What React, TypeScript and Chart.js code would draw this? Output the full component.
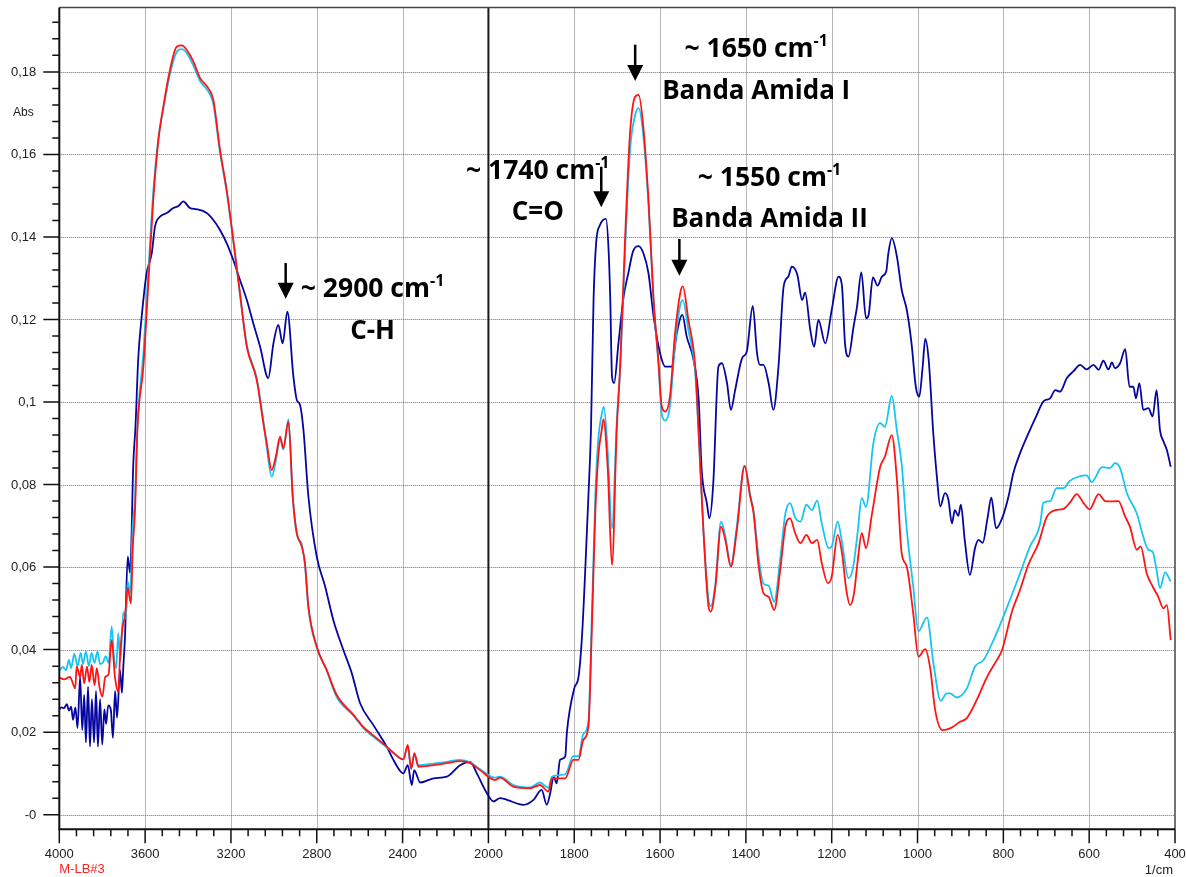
import { useEffect, useRef } from "react";
import { Chart, registerables } from "chart.js";
Chart.register(...registerables);

// ---------- axis ticks ----------
const xTickLabels = ["4000", "3600", "3200", "2800", "2400", "2000", "1800", "1600", "1400", "1200", "1000", "800", "600", "400"];
const yTickValues = [0, 0.02, 0.04, 0.06, 0.08, 0.1, 0.12, 0.14, 0.16, 0.18];
const yTickLabels = ["-0", "0,02", "0,04", "0,06", "0,08", "0,1", "0,12", "0,14", "0,16", "0,18"];
const yMin = -0.00354;
const yMax = 0.1956;

// ---------- spectra: [wavenumber (1/cm), absorbance] ----------
const navySeries: [number, number][] = [
  [4000,0.0255],[3990,0.026],[3978,0.0258],[3965,0.0268],[3955,0.0252],[3945,0.0262],[3936,0.023],[3925,0.026],[3915,0.021],[3903,0.0334],[3893,0.0205],[3884,0.029],[3876,0.0175],[3866,0.031],[3857,0.0165],[3848,0.028],[3838,0.0175],[3829,0.03],[3820,0.0165],[3810,0.028],[3800,0.017],[3790,0.0255],[3782,0.022],[3772,0.0265],[3760,0.0255],[3750,0.0186],[3740,0.03],[3731,0.0235],[3717,0.035],[3708,0.0295],[3702,0.0355],[3694,0.0428],[3681,0.0625],[3670,0.0586],[3655,0.0852],[3645,0.094],[3632,0.1106],[3616,0.1207],[3593,0.1312],[3569,0.1361],[3554,0.1425],[3531,0.1449],[3499,0.1458],[3469,0.147],[3445,0.1475],[3422,0.1486],[3391,0.147],[3359,0.1467],[3313,0.1458],[3282,0.1441],[3251,0.1417],[3220,0.1385],[3189,0.1344],[3158,0.1296],[3126,0.1247],[3096,0.1191],[3064,0.1134],[3026,0.1058],[3002,0.1142],[2979,0.1187],[2959,0.1142],[2937,0.1219],[2909,0.1062],[2893,0.1005],[2878,0.0993],[2862,0.0932],[2839,0.0771],[2800,0.0625],[2761,0.0553],[2723,0.0472],[2676,0.0399],[2637,0.0343],[2598,0.027],[2536,0.0217],[2474,0.0165],[2443,0.0133],[2396,0.01],[2376,0.012],[2357,0.0072],[2346,0.0108],[2318,0.0078],[2256,0.0088],[2194,0.0092],[2132,0.012],[2085,0.0128],[2054,0.01],[2007,0.0052],[1988,0.0032],[1973,0.004],[1957,0.0036],[1918,0.0024],[1895,0.0036],[1876,0.006],[1864,0.0024],[1856,0.0052],[1848,0.0092],[1841,0.0076],[1833,0.0133],[1821,0.0141],[1817,0.0201],[1800,0.0306],[1790,0.0334],[1782,0.0431],[1775,0.0577],[1767,0.0771],[1761,0.0932],[1755,0.1247],[1749,0.1385],[1740,0.1429],[1726,0.1444],[1720,0.1369],[1716,0.1247],[1712,0.1062],[1707,0.1046],[1697,0.1142],[1685,0.1255],[1674,0.1312],[1663,0.1365],[1650,0.1378],[1639,0.1361],[1627,0.1312],[1615,0.1207],[1600,0.1118],[1588,0.1086],[1573,0.1086],[1561,0.1167],[1548,0.1211],[1538,0.1159],[1522,0.1102],[1510,0.1005],[1503,0.0835],[1491,0.0755],[1485,0.0718],[1476,0.0803],[1464,0.1086],[1456,0.1094],[1444,0.1046],[1435,0.0981],[1425,0.1029],[1409,0.1106],[1398,0.1122],[1384,0.1233],[1374,0.1118],[1367,0.109],[1359,0.109],[1347,0.1046],[1336,0.0981],[1324,0.1086],[1312,0.128],[1301,0.1304],[1293,0.1328],[1280,0.1308],[1269,0.1247],[1262,0.1265],[1250,0.1175],[1241,0.1134],[1231,0.1199],[1215,0.1142],[1200,0.1223],[1184,0.1304],[1176,0.128],[1169,0.1142],[1161,0.111],[1149,0.1183],[1141,0.1231],[1131,0.1314],[1120,0.1203],[1114,0.1211],[1104,0.1302],[1093,0.1282],[1083,0.1304],[1073,0.1316],[1068,0.136],[1060,0.1397],[1048,0.1352],[1037,0.1272],[1025,0.1223],[1014,0.1142],[1004,0.1037],[996,0.1013],[988,0.1086],[982,0.1153],[974,0.1102],[963,0.092],[955,0.082],[947,0.0747],[936,0.0779],[928,0.0763],[920,0.0706],[913,0.0738],[905,0.0724],[899,0.0751],[890,0.0666],[878,0.0581],[866,0.0646],[858,0.0666],[848,0.0659],[837,0.0718],[828,0.0768],[817,0.0694],[803,0.0718],[788,0.0771],[777,0.0827],[761,0.0876],[745,0.0916],[722,0.0969],[707,0.1001],[691,0.1009],[679,0.1029],[668,0.1025],[652,0.1058],[637,0.1074],[621,0.109],[606,0.1079],[590,0.109],[578,0.1078],[567,0.11],[555,0.1079],[547,0.1096],[540,0.1082],[528,0.1094],[516,0.1128],[506,0.1037],[497,0.1037],[491,0.1009],[483,0.1046],[474,0.0981],[462,0.0985],[452,0.0965],[443,0.1029],[435,0.0932],[427,0.0905],[419,0.0884],[410,0.0843]
];

const redSeries: [number, number][] = [
  [4000,0.0332],[3976,0.0328],[3950,0.0334],[3942,0.0326],[3926,0.0306],[3919,0.0359],[3903,0.0334],[3895,0.0363],[3884,0.0318],[3871,0.0359],[3860,0.0322],[3849,0.0363],[3836,0.0314],[3825,0.0355],[3813,0.031],[3799,0.0286],[3786,0.0334],[3771,0.0339],[3756,0.0423],[3740,0.0331],[3725,0.0298],[3717,0.0383],[3705,0.0455],[3694,0.048],[3681,0.0549],[3666,0.0512],[3658,0.0642],[3647,0.0738],[3636,0.0932],[3608,0.1086],[3585,0.1288],[3562,0.149],[3538,0.1635],[3515,0.1716],[3484,0.1805],[3453,0.1861],[3429,0.1864],[3406,0.1853],[3375,0.1825],[3344,0.1785],[3305,0.176],[3282,0.1732],[3251,0.1611],[3220,0.1514],[3189,0.1393],[3158,0.1264],[3126,0.1134],[3080,0.1054],[3049,0.0949],[3033,0.09],[3010,0.0835],[2990,0.087],[2971,0.0916],[2956,0.0888],[2932,0.0953],[2912,0.0771],[2893,0.0682],[2870,0.065],[2855,0.0609],[2839,0.0504],[2800,0.0407],[2754,0.0351],[2707,0.029],[2629,0.0242],[2583,0.0213],[2520,0.0185],[2474,0.0165],[2412,0.0137],[2396,0.0134],[2376,0.0169],[2360,0.0112],[2345,0.0149],[2326,0.0116],[2256,0.012],[2194,0.0125],[2132,0.013],[2085,0.0125],[2039,0.0108],[1984,0.0084],[1973,0.009],[1942,0.0068],[1903,0.0064],[1880,0.0072],[1860,0.0056],[1852,0.0088],[1821,0.0088],[1802,0.0133],[1790,0.0133],[1779,0.0181],[1767,0.0213],[1759,0.0448],[1751,0.073],[1744,0.0868],[1736,0.0932],[1732,0.0958],[1722,0.084],[1712,0.0605],[1701,0.0932],[1693,0.1086],[1681,0.1409],[1670,0.1651],[1658,0.174],[1650,0.1744],[1639,0.1667],[1627,0.149],[1615,0.1247],[1604,0.1102],[1596,0.0989],[1588,0.0977],[1577,0.1013],[1565,0.1167],[1553,0.1264],[1547,0.128],[1534,0.1199],[1518,0.1086],[1510,0.0925],[1499,0.069],[1487,0.0504],[1482,0.0492],[1471,0.0553],[1458,0.0698],[1448,0.0666],[1435,0.0601],[1421,0.069],[1403,0.0845],[1390,0.0771],[1382,0.073],[1371,0.0609],[1359,0.0537],[1347,0.0528],[1334,0.0496],[1320,0.0593],[1308,0.0698],[1297,0.0718],[1285,0.0682],[1273,0.0658],[1259,0.0678],[1246,0.0658],[1234,0.0666],[1223,0.0609],[1209,0.0561],[1200,0.0577],[1186,0.0678],[1176,0.0634],[1166,0.0545],[1157,0.0508],[1148,0.0537],[1140,0.0609],[1130,0.0682],[1120,0.0646],[1106,0.073],[1087,0.0843],[1076,0.0868],[1060,0.092],[1048,0.0811],[1037,0.0634],[1025,0.0601],[1010,0.0488],[998,0.0383],[982,0.0401],[970,0.0351],[959,0.0254],[942,0.0205],[924,0.0209],[901,0.0225],[885,0.0234],[862,0.0278],[838,0.0334],[815,0.0375],[803,0.0399],[780,0.0492],[761,0.0545],[742,0.0605],[718,0.0658],[699,0.0721],[679,0.0738],[660,0.0741],[645,0.0756],[629,0.0777],[613,0.0755],[599,0.074],[578,0.0777],[563,0.076],[547,0.0759],[532,0.076],[516,0.0722],[505,0.0698],[489,0.0642],[480,0.065],[466,0.0585],[452,0.0553],[439,0.0528],[427,0.05],[419,0.0508],[410,0.0423]
];

const cyanSeries: [number, number][] = [
  [4000,0.0349],[3983,0.0358],[3969,0.035],[3955,0.0375],[3945,0.0355],[3930,0.039],[3915,0.036],[3900,0.0392],[3890,0.0365],[3876,0.0395],[3862,0.036],[3850,0.0392],[3836,0.0368],[3822,0.0395],[3810,0.0365],[3796,0.037],[3784,0.0384],[3770,0.0368],[3756,0.0456],[3745,0.038],[3735,0.0355],[3725,0.044],[3715,0.0372],[3702,0.049],[3690,0.0475],[3681,0.0565],[3670,0.0535],[3658,0.07],[3647,0.0765],[3636,0.094],[3608,0.112],[3585,0.1315],[3562,0.151],[3538,0.164],[3515,0.1712],[3484,0.1795],[3453,0.1848],[3429,0.1855],[3406,0.1845],[3375,0.1815],[3344,0.1778],[3305,0.1752],[3282,0.1722],[3251,0.1605],[3220,0.151],[3189,0.139],[3158,0.126],[3126,0.1138],[3080,0.1058],[3049,0.0955],[3033,0.089],[3010,0.0819],[2990,0.086],[2971,0.091],[2956,0.0885],[2932,0.0958],[2912,0.077],[2893,0.068],[2870,0.0655],[2855,0.0605],[2839,0.05],[2800,0.0405],[2754,0.035],[2707,0.0285],[2629,0.024],[2583,0.021],[2520,0.0182],[2474,0.0163],[2412,0.0137],[2396,0.0134],[2376,0.0166],[2360,0.011],[2345,0.0146],[2326,0.012],[2256,0.0124],[2194,0.0128],[2132,0.0133],[2085,0.0127],[2039,0.011],[1984,0.009],[1973,0.0092],[1942,0.0072],[1903,0.0066],[1880,0.0078],[1860,0.0065],[1852,0.0092],[1821,0.0098],[1802,0.0142],[1790,0.0142],[1779,0.0195],[1767,0.0225],[1759,0.048],[1751,0.077],[1744,0.091],[1736,0.097],[1731,0.0989],[1722,0.088],[1712,0.0694],[1701,0.095],[1693,0.108],[1681,0.138],[1670,0.161],[1658,0.1695],[1650,0.1712],[1639,0.1645],[1627,0.148],[1615,0.124],[1604,0.1095],[1596,0.097],[1588,0.0955],[1577,0.099],[1565,0.114],[1553,0.1235],[1547,0.1247],[1534,0.1175],[1518,0.107],[1510,0.092],[1499,0.069],[1487,0.052],[1482,0.0505],[1471,0.056],[1458,0.071],[1448,0.0675],[1435,0.0605],[1421,0.07],[1403,0.0845],[1390,0.0775],[1382,0.0735],[1371,0.063],[1359,0.056],[1347,0.0555],[1334,0.0516],[1320,0.062],[1308,0.073],[1297,0.0755],[1285,0.072],[1273,0.071],[1259,0.0751],[1246,0.0738],[1234,0.0761],[1223,0.0705],[1207,0.0646],[1200,0.065],[1186,0.071],[1176,0.066],[1161,0.0573],[1150,0.06],[1140,0.068],[1130,0.0767],[1120,0.0746],[1103,0.09],[1087,0.0949],[1076,0.094],[1060,0.1015],[1048,0.093],[1037,0.085],[1025,0.069],[1010,0.0553],[998,0.0444],[978,0.0478],[963,0.0367],[946,0.0276],[932,0.0294],[924,0.0294],[909,0.0284],[885,0.0306],[866,0.0359],[846,0.0375],[823,0.0423],[800,0.048],[761,0.0585],[738,0.065],[714,0.0706],[707,0.0756],[691,0.076],[676,0.0791],[660,0.0791],[645,0.0809],[625,0.0819],[606,0.0822],[594,0.0806],[570,0.0842],[551,0.084],[540,0.0852],[528,0.084],[512,0.0779],[489,0.073],[474,0.0674],[462,0.0642],[452,0.0637],[443,0.0593],[435,0.0549],[423,0.0587],[410,0.0565]
];

// ---------- band annotations ----------
type Band = { arrowWn: number; arrowTop: number; arrowTip: number; textWn: number; line1Abs: number; line2Abs: number; main: string; sup: string; line2: string };
const bands: Band[] = [
  { arrowWn: 2945, arrowTop: 0.1337, arrowTip: 0.125, textWn: 2540, line1Abs: 0.1255, line2Abs: 0.1152, main: "~ 2900 cm", sup: "-1", line2: "C-H" },
  { arrowWn: 1737, arrowTop: 0.157, arrowTip: 0.1472, textWn: 1885, line1Abs: 0.1541, line2Abs: 0.144, main: "~ 1740 cm", sup: "-1", line2: "C=O" },
  { arrowWn: 1658, arrowTop: 0.1866, arrowTip: 0.1778, textWn: 1376, line1Abs: 0.1837, line2Abs: 0.1735, main: "~ 1650 cm", sup: "-1", line2: "Banda Amida I" },
  { arrowWn: 1555, arrowTop: 0.1395, arrowTip: 0.1306, textWn: 1345, line1Abs: 0.1524, line2Abs: 0.1423, main: "~ 1550 cm", sup: "-1", line2: "Banda Amida II" },
];

const W = 1186;
const H = 877;
const AXIS_FONT = '13px "Liberation Sans", Arial, sans-serif';
const ANN_FONT = 'bold 26px "Open Sans", "Noto Sans", sans-serif';
const ANN_FONT_L1 = 'bold 26.5px "Open Sans", "Noto Sans", sans-serif';
const SUP_FONT = 'bold 16px "Open Sans", "Noto Sans", sans-serif';

// piecewise wavenumber axis: 4000-2000 at 400/div, 2000-400 at 200/div
function toU(wn: number): number {
  return wn >= 2000 ? (4000 - wn) / 400 : 5 + (2000 - wn) / 200;
}
function pts(s: [number, number][]) {
  return s.map(([w, a]) => ({ x: toU(w), y: a }));
}

const decorPlugin = {
  id: "decor",
  beforeDatasetsDraw(chart: any) {
    const { ctx, chartArea: a, scales } = chart;
    const x = scales.x, y = scales.y;
    ctx.save();
    ctx.strokeStyle = "#6e6e6e";
    ctx.lineWidth = 1;
    ctx.setLineDash([1, 1]);
    ctx.beginPath();
    for (let i = 1; i < xTickLabels.length - 1; i++) {
      if (i === 5) continue;
      const px = Math.round(x.getPixelForValue(i)) + 0.5;
      ctx.moveTo(px, a.top);
      ctx.lineTo(px, a.bottom);
    }
    for (const v of yTickValues) {
      const py = Math.round(y.getPixelForValue(v)) + 0.5;
      ctx.moveTo(a.left, py);
      ctx.lineTo(a.right, py);
    }
    ctx.stroke();
    ctx.setLineDash([]);
    ctx.strokeStyle = "#1a1a1a";
    ctx.lineWidth = 2;
    const p2000 = x.getPixelForValue(5);
    ctx.beginPath();
    ctx.moveTo(p2000, a.top);
    ctx.lineTo(p2000, a.bottom);
    ctx.stroke();
    ctx.restore();
  },
  afterDatasetsDraw(chart: any) {
    const { ctx, chartArea: a, scales } = chart;
    const x = scales.x, y = scales.y;
    ctx.save();
    // frame
    ctx.strokeStyle = "#444";
    ctx.lineWidth = 1.5;
    ctx.beginPath();
    ctx.moveTo(a.left, a.top);
    ctx.lineTo(a.right, a.top);
    ctx.lineTo(a.right, a.bottom);
    ctx.stroke();
    ctx.strokeStyle = "#111";
    ctx.lineWidth = 2;
    ctx.beginPath();
    ctx.moveTo(a.left, a.top);
    ctx.lineTo(a.left, a.bottom);
    ctx.lineTo(a.right, a.bottom);
    ctx.stroke();

    // ticks
    ctx.lineWidth = 1.5;
    ctx.strokeStyle = "#111";
    ctx.beginPath();
    for (let k = 0; k <= 65; k++) {
      const px = x.getPixelForValue(k / 5);
      const len = k % 5 === 0 ? 14 : 7;
      ctx.moveTo(px, a.bottom);
      ctx.lineTo(px, a.bottom + len);
    }
    for (let k = 0; k <= 48; k++) {
      const v = k * 0.004;
      const py = y.getPixelForValue(v);
      if (py < a.top) continue;
      const len = k % 5 === 0 ? 16 : 7;
      ctx.moveTo(a.left, py);
      ctx.lineTo(a.left - len, py);
    }
    ctx.stroke();

    // tick labels
    ctx.fillStyle = "#222";
    ctx.font = AXIS_FONT;
    ctx.textAlign = "right";
    ctx.textBaseline = "middle";
    yTickValues.forEach((v, i) => {
      ctx.fillText(yTickLabels[i], a.left - 23, y.getPixelForValue(v) + 0.5);
    });
    ctx.textAlign = "center";
    ctx.textBaseline = "alphabetic";
    xTickLabels.forEach((lab, i) => {
      ctx.fillText(lab, x.getPixelForValue(i), a.bottom + 29);
    });
    ctx.textAlign = "right";
    ctx.fillText("1/cm", a.right - 2, a.bottom + 45);
    ctx.textAlign = "left";
    ctx.fillStyle = "#ff2020";
    ctx.fillText("M-LB#3", a.left, a.bottom + 44);
    ctx.fillStyle = "#222";
    ctx.font = '12px "Liberation Sans", Arial, sans-serif';
    ctx.textBaseline = "middle";
    ctx.fillText("Abs", 13, 113);

    // band annotations
    ctx.fillStyle = "#000";
    ctx.strokeStyle = "#000";
    for (const b of bands) {
      const ax = x.getPixelForValue(toU(b.arrowWn));
      const top = y.getPixelForValue(b.arrowTop);
      const tip = y.getPixelForValue(b.arrowTip);
      const head = 16;
      ctx.lineWidth = 2.5;
      ctx.beginPath();
      ctx.moveTo(ax, top);
      ctx.lineTo(ax, tip - head + 2);
      ctx.stroke();
      ctx.beginPath();
      ctx.moveTo(ax - 8, tip - head);
      ctx.lineTo(ax + 8, tip - head);
      ctx.lineTo(ax, tip);
      ctx.closePath();
      ctx.fill();

      const cx = x.getPixelForValue(toU(b.textWn));
      const b1 = y.getPixelForValue(b.line1Abs);
      const b2 = y.getPixelForValue(b.line2Abs);
      ctx.textBaseline = "alphabetic";
      ctx.textAlign = "left";
      ctx.font = ANN_FONT_L1;
      const wm = ctx.measureText(b.main).width;
      ctx.font = SUP_FONT;
      const ws = ctx.measureText(b.sup).width;
      const x0 = cx - (wm + ws) / 2;
      ctx.font = ANN_FONT_L1;
      ctx.fillText(b.main, x0, b1);
      ctx.font = SUP_FONT;
      ctx.fillText(b.sup, x0 + wm, b1 - 10.5);
      ctx.font = ANN_FONT;
      ctx.textAlign = "center";
      ctx.fillText(b.line2, cx, b2);
    }
    ctx.restore();
  },
};

export default function App() {
  const ref = useRef<HTMLCanvasElement>(null);
  useEffect(() => {
    document.body.style.margin = "0";
    const canvas = ref.current;
    if (!canvas) return;
    const lineOpts = { pointRadius: 0, borderWidth: 1.8, fill: false, cubicInterpolationMode: "monotone" as const };
    const chart = new Chart(canvas, {
      type: "line",
      data: {
        datasets: [
          { label: "M-LB#3", data: pts(redSeries), borderColor: "#ff1414", order: 0, ...lineOpts },
          { label: "B", data: pts(cyanSeries), borderColor: "#18c4f4", order: 1, ...lineOpts },
          { label: "A", data: pts(navySeries), borderColor: "#0505a0", order: 2, ...lineOpts },
        ],
      },
      options: {
        responsive: false,
        animation: false,
        devicePixelRatio: 1,
        layout: { padding: { left: 59.3, right: W - 1175, top: 7.5, bottom: H - 829.3 } },
        plugins: { legend: { display: false }, tooltip: { enabled: false } },
        events: [],
        scales: {
          x: { type: "linear", display: false, min: 0, max: 13 },
          y: { type: "linear", display: false, min: yMin, max: yMax },
        },
      },
      plugins: [decorPlugin],
    });
    return () => chart.destroy();
  }, []);
  return <canvas ref={ref} width={W} height={H} style={{ display: "block", width: W, height: H }} />;
}
